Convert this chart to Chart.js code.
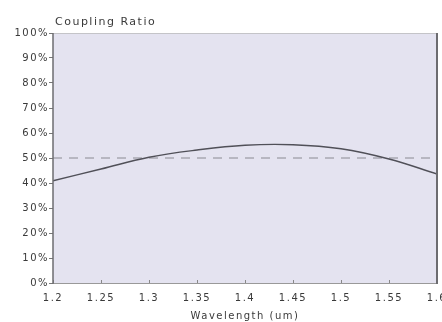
<!DOCTYPE html>
<html>
<head>
<meta charset="utf-8">
<script src="https://cdn.jsdelivr.net/npm/chart.js@4/dist/chart.umd.min.js"></script>
<style>
  html, body { margin: 0; padding: 0; background: #fff; }
  #wrap { width: 442px; height: 322px; }
</style>
</head>
<body>
<div id="wrap"><canvas id="ratioChart" width="442" height="322"></canvas></div>
<script>
const wavelengths = [1.2, 1.25, 1.3, 1.35, 1.4, 1.45, 1.5, 1.55, 1.6];
const couplingRatio = [40.9, 45.6, 50.3, 53.2, 55.1, 55.3, 53.7, 49.6, 43.6];
const referenceLevel = 50;
const xTicks = [1.2, 1.25, 1.3, 1.35, 1.4, 1.45, 1.5, 1.55, 1.6];
const yTicks = [0, 10, 20, 30, 40, 50, 60, 70, 80, 90, 100];

const FONT = "'DejaVu Sans', sans-serif";
const SPACING = '1.5px';

// the reference text is wide and loosely spaced
const spacingPlugin = {
  id: 'spacing',
  beforeUpdate(chart) { chart.ctx.letterSpacing = SPACING; },
  beforeDraw(chart) { chart.ctx.letterSpacing = SPACING; }
};

// plot background, frame, inner x ticks and the top-left caption
const framePlugin = {
  id: 'frame',
  beforeDatasetsDraw(chart) {
    const { ctx, chartArea: a } = chart;
    ctx.save();
    ctx.fillStyle = '#e4e3f0';
    ctx.fillRect(a.left, a.top, a.right - a.left, a.bottom - a.top);
    ctx.restore();
  },
  afterDraw(chart) {
    const { ctx, chartArea: a, scales } = chart;
    ctx.save();
    // x ticks pointing into the plot
    ctx.strokeStyle = '#888';
    ctx.lineWidth = 1;
    xTicks.forEach(v => {
      const px = Math.round(scales.x.getPixelForValue(v)) + 0.5;
      ctx.beginPath();
      ctx.moveTo(px, a.bottom);
      ctx.lineTo(px, a.bottom - 3);
      ctx.stroke();
    });
    // frame
    ctx.strokeStyle = '#c4c4c8';
    ctx.beginPath(); ctx.moveTo(a.left, a.top + 0.5); ctx.lineTo(a.right, a.top + 0.5); ctx.stroke();
    ctx.strokeStyle = '#999';
    ctx.beginPath(); ctx.moveTo(a.left, a.bottom + 0.5); ctx.lineTo(a.right, a.bottom + 0.5); ctx.stroke();
    ctx.strokeStyle = '#6c6c70';
    ctx.lineWidth = 1.5;
    ctx.beginPath(); ctx.moveTo(a.left, a.top); ctx.lineTo(a.left, a.bottom + 1); ctx.stroke();
    ctx.lineWidth = 2;
    ctx.beginPath(); ctx.moveTo(a.right, a.top); ctx.lineTo(a.right, a.bottom + 1); ctx.stroke();
    // caption
    ctx.letterSpacing = SPACING;
    ctx.fillStyle = '#3a3a3a';
    ctx.font = '11px ' + FONT;
    ctx.textBaseline = 'alphabetic';
    ctx.textAlign = 'left';
    ctx.fillText('Coupling Ratio', a.left + 2, a.top - 8);
    ctx.restore();
  }
};

new Chart(document.getElementById('ratioChart'), {
  type: 'line',
  data: {
    datasets: [
      {
        label: 'Coupling Ratio',
        data: wavelengths.map((w, i) => ({ x: w, y: couplingRatio[i] })),
        borderColor: '#505058',
        borderWidth: 1.4,
        pointRadius: 0,
        tension: 0.4,
        fill: false
      },
      {
        label: '50%',
        data: [{ x: xTicks[0], y: referenceLevel }, { x: xTicks[xTicks.length - 1], y: referenceLevel }],
        borderColor: '#8a8a92',
        borderWidth: 1,
        borderDash: [9, 7],
        pointRadius: 0,
        fill: false
      }
    ]
  },
  options: {
    responsive: false,
    animation: false,
    layout: { padding: { top: 33, right: 5, left: 0, bottom: 0 } },
    plugins: {
      legend: { display: false },
      tooltip: { enabled: false }
    },
    scales: {
      x: {
        type: 'linear',
        min: 1.2,
        max: 1.6,
        afterBuildTicks: s => { s.ticks = xTicks.map(v => ({ value: v })); },
        afterFit: s => { s.height = 39; s.paddingLeft = 0; s.paddingRight = 0; },
        grid: { display: false, drawTicks: false },
        border: { display: false },
        ticks: {
          color: '#3a3a3a',
          font: { family: FONT, size: 10 },
          padding: 9,
          maxRotation: 0,
          callback: v => String(Math.round(v * 100) / 100)
        },
        title: {
          display: true,
          text: 'Wavelength (um)',
          color: '#3a3a3a',
          font: { family: FONT, size: 10 },
          padding: { top: 0, bottom: 0 }
        }
      },
      y: {
        min: 0,
        max: 100,
        afterBuildTicks: s => { s.ticks = yTicks.map(v => ({ value: v })); },
        afterFit: s => { s.width = 53; s.paddingTop = 0; s.paddingBottom = 0; },
        grid: { drawOnChartArea: false, drawTicks: true, tickLength: 4, color: '#777' },
        border: { display: false },
        ticks: {
          color: '#3a3a3a',
          font: { family: FONT, size: 10 },
          padding: 0,
          callback: v => v + '%'
        }
      }
    }
  },
  plugins: [spacingPlugin, framePlugin]
});
</script>
</body>
</html>
